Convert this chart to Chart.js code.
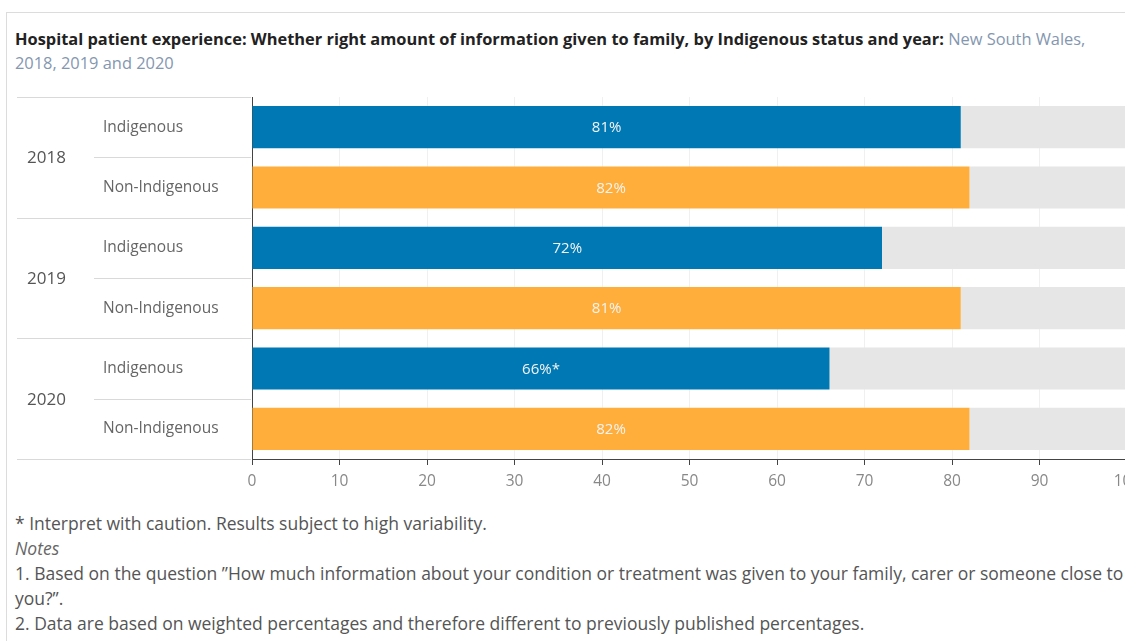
<!DOCTYPE html>
<html>
<head>
<meta charset="utf-8">
<script src="https://cdn.jsdelivr.net/npm/chart.js@4"></script>
<style>
  html, body { margin: 0; padding: 0; background: #fff; overflow: hidden; }
  body { width: 1125px; height: 641px; position: relative; font-family: "Open Sans", "Noto Sans", sans-serif; }
  #frame { position: absolute; left: 6px; top: 12px; width: 1200px; height: 700px; border-left: 1px solid #dcdcdc; border-top: 1px solid #dcdcdc; }
  #title { position: absolute; left: 15px; top: 27px; width: 1100px; font-size: 16.4px; line-height: 24px; color: #222; }
  #title b { font-weight: bold; }
  #title span { color: #8497b0; }
  #chartBox { position: absolute; left: 0; top: 85px; width: 1160px; height: 420px; }
  #notes { position: absolute; left: 15px; top: 511px; width: 1200px; font-size: 17.5px; line-height: 25px; color: #555; white-space: nowrap; }
  #notes i { color: #666; }
</style>
</head>
<body>
<div id="frame"></div>
<div id="title"><b>Hospital patient experience: Whether right amount of information given to family, by Indigenous status and year:</b> <span>New South Wales, 2018, 2019 and 2020</span></div>
<div id="chartBox"><canvas id="myChart"></canvas></div>
<div id="notes">
  <div>* Interpret with caution. Results subject to high variability.</div>
  <div><i>Notes</i></div>
  <div>1. Based on the question ”How much information about your condition or treatment was given to your family, carer or someone close to</div>
  <div>you?”.</div>
  <div>2. Data are based on weighted percentages and therefore different to previously published percentages.</div>
</div>
<script>
'use strict';
let years = ['2018', '2019', '2020'];
let groups = ['Indigenous', 'Non-Indigenous'];
let indigenous = [81, 72, 66];
let nonIndigenous = [82, 81, 82];
let indigenousCaution = [false, false, true];
let xTicks = [0, 10, 20, 30, 40, 50, 60, 70, 80, 90, 100];

let blue = '#0078b4';
let orange = '#ffae3c';

// one row per year/group pair
let rowLabels = [];
let rowValues = [];
let rowColors = [];
let rowText = [];
for (let i = 0; i < years.length; i++) {
  rowLabels.push(groups[0]);
  rowValues.push(indigenous[i]);
  rowColors.push(blue);
  rowText.push(indigenous[i] + '%' + (indigenousCaution[i] ? '*' : ''));

  rowLabels.push(groups[1]);
  rowValues.push(nonIndigenous[i]);
  rowColors.push(orange);
  rowText.push(nonIndigenous[i] + '%');
}
let remainder = rowValues.map(v => 100 - v);

let ctx = document.getElementById('myChart').getContext('2d');

// category and year labels plus separators to the left of the plot
let leftLabels = {
  id: 'leftLabels',
  afterDraw(chart) {
    let c = chart.ctx;
    let y = chart.scales.y;
    let left = chart.chartArea.left - 1;
    c.save();
    c.strokeStyle = '#d9d9d9';
    c.lineWidth = 1;
    for (let k = 0; k <= years.length; k++) {
      let py = Math.round(y.getPixelForValue(2 * k - 0.5)) + 0.5;
      c.beginPath();
      c.moveTo(17, py);
      c.lineTo(left, py);
      c.stroke();
    }
    for (let k = 0; k < years.length; k++) {
      let py = Math.round(y.getPixelForValue(2 * k + 0.5)) + 0.5;
      c.beginPath();
      c.moveTo(94, py);
      c.lineTo(left, py);
      c.stroke();
    }
    c.textBaseline = 'middle';
    c.textAlign = 'left';
    c.fillStyle = '#666';
    c.font = '15.5px "Open Sans", sans-serif';
    for (let i = 0; i < rowLabels.length; i++) {
      c.fillText(rowLabels[i], 103, y.getPixelForValue(i));
    }
    c.fillStyle = '#555';
    c.font = '17px "Open Sans", sans-serif';
    for (let k = 0; k < years.length; k++) {
      c.fillText(years[k], 27, y.getPixelForValue(2 * k + 0.5) + 1);
    }
    c.restore();
  }
};

// percentage text centred inside each coloured bar
let barText = {
  id: 'barText',
  afterDatasetsDraw(chart) {
    let c = chart.ctx;
    let meta = chart.getDatasetMeta(0);
    c.save();
    c.fillStyle = '#f4f4f4';
    c.font = '15px "Open Sans", sans-serif';
    c.textAlign = 'center';
    c.textBaseline = 'middle';
    meta.data.forEach((bar, i) => {
      c.fillText(rowText[i], (bar.base + bar.x) / 2, bar.y + 1);
    });
    c.restore();
  }
};

let myChartObj = {
  type: 'bar',
  data: {
    labels: rowLabels,
    datasets: [{
      data: rowValues,
      backgroundColor: rowColors,
      barPercentage: 0.7,
      categoryPercentage: 1
    },
    {
      data: remainder,
      backgroundColor: '#e6e6e6',
      barPercentage: 0.7,
      categoryPercentage: 1
    }]
  },
  options: {
    indexAxis: 'y',
    responsive: true,
    maintainAspectRatio: false,
    animation: false,
    layout: {
      padding: { left: 252, top: 12, right: 33, bottom: 0 }
    },
    scales: {
      x: {
        stacked: true,
        min: 0,
        max: 100,
        afterBuildTicks(scale) {
          scale.ticks = xTicks.map(v => ({ value: v }));
        },
        afterFit(scale) {
          scale.height = 46;
        },
        grid: {
          color: '#f0f0f0',
          tickColor: '#444',
          tickLength: 6
        },
        border: { color: '#444' },
        ticks: {
          color: '#888',
          padding: 7,
          font: { size: 15.5, family: '"Open Sans", sans-serif' }
        }
      },
      y: {
        stacked: true,
        afterFit(scale) {
          scale.width = 0;
        },
        grid: { display: false },
        border: { display: true, color: '#444' },
        ticks: { display: false }
      }
    },
    plugins: {
      legend: { display: false },
      tooltip: { enabled: false }
    }
  },
  plugins: [leftLabels, barText]
};

const myChart = new Chart(ctx, myChartObj);
</script>
</body>
</html>
